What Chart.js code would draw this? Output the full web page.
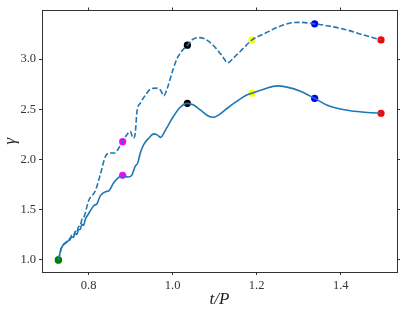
<!DOCTYPE html>
<html>
<head>
<meta charset="utf-8">
<script src="https://cdn.jsdelivr.net/npm/chart.js@4.4.1/dist/chart.umd.min.js"></script>
<style>
  html, body { margin: 0; padding: 0; background: #fff; }
  #chart { display: block; }
</style>
</head>
<body>
<canvas id="chart" width="407" height="310"></canvas>
<script>
// solid curve, t/P and gamma
const solidT = [0.728, 0.735, 0.740, 0.745, 0.750, 0.756, 0.760, 0.764, 0.768, 0.772, 0.776, 0.780,
    0.784, 0.788, 0.792, 0.800, 0.812, 0.820, 0.828, 0.840,
    0.848, 0.860, 0.871, 0.881, 0.894, 0.903, 0.911, 0.917, 0.923, 0.931, 0.943, 0.955, 0.963, 0.972,
    0.979, 0.990, 1.002, 1.018, 1.035, 1.050, 1.066, 1.086, 1.098, 1.110, 1.130, 1.153, 1.173, 1.189,
    1.217, 1.249, 1.272, 1.304, 1.338, 1.368, 1.391, 1.423, 1.463, 1.496];
const solidG = [1.000, 1.115, 1.150, 1.165, 1.185, 1.205, 1.230, 1.225, 1.265, 1.255, 1.300, 1.305,
    1.355, 1.345, 1.405, 1.460, 1.540, 1.560, 1.640, 1.680,
    1.688, 1.770, 1.820, 1.842, 1.825, 1.845, 1.934, 1.967, 2.065, 2.147, 2.212, 2.255, 2.245, 2.220,
    2.263, 2.345, 2.430, 2.520, 2.559, 2.542, 2.493, 2.430, 2.420, 2.444, 2.510, 2.580, 2.635, 2.660,
    2.700, 2.733, 2.720, 2.680, 2.608, 2.540, 2.510, 2.485, 2.468, 2.460];

// dashed curve
const dashedT = [0.728, 0.735, 0.740, 0.745, 0.750, 0.756, 0.760, 0.764, 0.768, 0.772, 0.776, 0.780,
    0.784, 0.790, 0.800, 0.816, 0.828, 0.840, 0.852, 0.863,
    0.871, 0.881, 0.891, 0.899, 0.906, 0.911, 0.915, 0.923, 0.935, 0.947, 0.959, 0.971, 0.979, 0.987,
    0.999, 1.010, 1.022, 1.035, 1.046, 1.062, 1.078, 1.098, 1.118, 1.131, 1.145, 1.169, 1.189, 1.217,
    1.249, 1.280, 1.304, 1.338, 1.383, 1.415, 1.446, 1.496];
const dashedG = [1.000, 1.118, 1.155, 1.172, 1.195, 1.215, 1.245, 1.238, 1.285, 1.275, 1.330, 1.340,
    1.405, 1.440, 1.590, 1.689, 1.853, 2.030, 2.065, 2.065,
    2.110, 2.177, 2.246, 2.280, 2.213, 2.262, 2.476, 2.560, 2.640, 2.700, 2.710, 2.690, 2.634, 2.706,
    2.870, 3.000, 3.080, 3.138, 3.190, 3.213, 3.197, 3.130, 3.030, 2.963, 3.012, 3.110, 3.190, 3.250,
    3.315, 3.358, 3.365, 3.350, 3.320, 3.290, 3.250, 3.190];

// marked instants
const markT = [0.728, 0.881, 1.035, 1.189, 1.338, 1.496];
const markSolid = [1.000, 1.842, 2.559, 2.660, 2.608, 2.460];
const markDashed = [1.000, 2.177, 3.138, 3.190, 3.350, 3.190];
const markColors = ["#008000", "#ff00ff", "#000000", "#ffff00", "#0000ff", "#ff0000"];

const xTicks = [0.8, 1.0, 1.2, 1.4];
const yTicks = [1.0, 1.5, 2.0, 2.5, 3.0];

const toXY = (xs, ys) => xs.map((x, i) => ({ x: x, y: ys[i] }));

const frame = "#333";
const serif = "'Liberation Serif', 'DejaVu Serif', serif";

function fixed(size) {
    return function (scale) {
        if (scale.isHorizontal()) scale.height = size;
        else scale.width = size;
    };
}

function axis(pos, ticks, label, size, showLabels) {
    const horiz = pos === "bottom" || pos === "top";
    return {
        type: "linear",
        position: pos,
        min: horiz ? 0.689 : 0.88,
        max: horiz ? 1.534 : 3.483,
        afterBuildTicks: (s) => { s.ticks = ticks.map((v) => ({ value: v })); },
        afterFit: fixed(size),
        grid: { drawOnChartArea: false, drawTicks: true, tickLength: 3, color: frame, tickWidth: 1 },
        border: { display: true, color: frame, width: 1 },
        ticks: {
            display: showLabels,
            color: "#333",
            padding: 3,
            font: { family: serif, size: 12.5 },
            callback: (v) => v.toFixed(1),
        },
        title: label ? {
            display: true,
            text: label,
            color: "#222",
            padding: { top: 0, bottom: 0 },
            font: { family: serif, size: 17, style: "italic" },
        } : { display: false },
    };
}

const markerSets = [markSolid, markDashed].map((vals) => ({
    type: "scatter",
    data: toXY(markT, vals),
    pointBackgroundColor: markColors,
    pointBorderWidth: 0,
    pointRadius: 3.6,
    showLine: false,
    xAxisID: "x",
    yAxisID: "y",
}));

new Chart(document.getElementById("chart"), {
    type: "line",
    data: {
        datasets: [
            {
                data: toXY(solidT, solidG),
                borderColor: "#1f77b4",
                borderWidth: 1.6,
                pointRadius: 0,
                cubicInterpolationMode: "monotone",
                xAxisID: "x",
                yAxisID: "y",
            },
            {
                data: toXY(dashedT, dashedG),
                borderColor: "#1f77b4",
                borderWidth: 1.6,
                borderDash: [5.5, 2.4],
                pointRadius: 0,
                cubicInterpolationMode: "monotone",
                xAxisID: "x",
                yAxisID: "y",
            },
            ...markerSets,
        ],
    },
    options: {
        responsive: false,
        animation: false,
        layout: { padding: 0 },
        plugins: { legend: { display: false }, tooltip: { enabled: false } },
        scales: {
            x: axis("bottom", xTicks, "t/P", 38, true),
            x2: axis("top", xTicks, null, 7, false),
            y: axis("left", yTicks, "γ", 42, true),
            y2: axis("right", yTicks, null, 10, false),
        },
    },
});
</script>
</body>
</html>
